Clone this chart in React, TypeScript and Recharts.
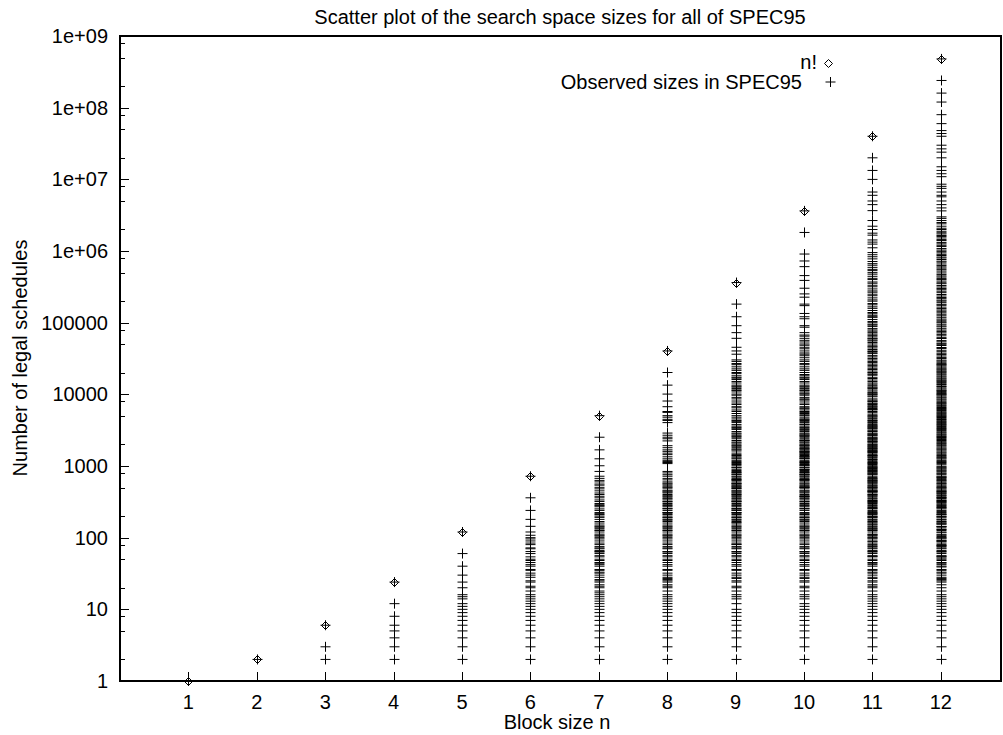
import { ScatterChart, Scatter, XAxis, YAxis } from "recharts";

const FONT = '"Liberation Sans", Arial, Helvetica, sans-serif';

// block sizes and the n! upper bound
const blockSizes = [1, 2, 3, 4, 5, 6, 7, 8, 9, 10, 11, 12];
const factorials = [1, 2, 6, 24, 120, 720, 5040, 40320, 362880, 3628800, 39916800, 479001600];

// observed search space sizes per block size
const observedN1 = [1];
const observedN2 = [2];
const observedN3 = [2, 3, 6];
const observedN4 = [2, 3, 4, 5, 6, 8, 12, 24];
const observedN5 = [2, 3, 4, 5, 6, 7, 8, 9, 10, 11, 12, 14, 15, 16, 20, 24, 30, 40, 60, 120];
const observedN6 = [
  2, 3, 4, 5, 6, 7, 8, 9, 10, 11, 12, 13, 14, 15, 16, 18, 20, 21, 24, 25, 28, 30, 32, 35, 36, 40, 42, 45,
  48, 50, 54, 60, 64, 70, 72, 80, 84, 90, 96, 100, 108, 120, 144, 180, 240, 360, 720,
];
const observedN7 = [
  2, 3, 4, 5, 6, 7, 8, 9, 10, 11, 12, 13, 14, 15, 16, 17, 18, 20, 21, 22, 24, 25, 26, 28, 30, 32, 33, 35, 36,
  40, 42, 44, 45, 48, 50, 54, 56, 60, 63, 64, 66, 70, 72, 75, 80, 84, 90, 96, 100, 105, 108, 112, 120, 126,
  128, 135, 140, 144, 150, 160, 168, 180, 192, 200, 210, 216, 224, 240, 252, 270, 280, 288, 300, 320, 336,
  360, 378, 400, 420, 450, 480, 504, 540, 560, 600, 630, 672, 720, 840, 1008, 1260, 1680, 2520, 5040,
];
const observedN8 = [
  2, 3, 4, 5, 6, 7, 8, 9, 10, 11, 12, 13, 14, 15, 16, 18, 20, 21, 22, 24, 25, 26, 27, 28, 30, 32, 35, 36, 40,
  42, 45, 48, 50, 54, 56, 60, 63, 64, 70, 72, 75, 80, 84, 90, 96, 100, 105, 108, 112, 120, 126, 128, 135, 140,
  144, 150, 160, 168, 175, 180, 189, 192, 200, 210, 216, 224, 225, 240, 252, 256, 270, 280, 288, 300, 315,
  320, 336, 350, 360, 378, 384, 400, 420, 432, 448, 450, 480, 504, 512, 540, 560, 576, 600, 640, 672, 720,
  756, 800, 840, 1080, 1120, 1152, 1200, 1260, 1344, 1440, 1512, 1600, 1680, 1800, 1920, 2240, 2400, 2520,
  2688, 2880, 4032, 4320, 4480, 4800, 5040, 5600, 5760, 6720, 8064, 10080, 13440, 20160, 40320,
];
const observedN9 = [
  2, 3, 4, 5, 6, 7, 8, 9, 10, 12, 14, 15, 16, 18, 20, 21, 24, 25, 27, 28, 30, 32, 35, 36, 40, 42, 45, 48, 50,
  54, 56, 60, 63, 64, 70, 72, 75, 80, 81, 84, 90, 96, 100, 105, 108, 112, 120, 126, 128, 135, 140, 144, 150,
  160, 162, 168, 175, 180, 189, 192, 200, 210, 216, 224, 225, 240, 243, 252, 256, 270, 280, 288, 300, 315,
  320, 324, 336, 350, 360, 378, 384, 400, 405, 420, 432, 448, 450, 480, 486, 504, 512, 525, 540, 560, 567,
  576, 600, 630, 640, 648, 672, 700, 720, 756, 768, 800, 810, 840, 864, 900, 945, 960, 1008, 1050, 1080,
  1120, 1152, 1200, 1260, 1296, 1344, 1400, 1440, 1512, 1620, 1680, 1728, 1800, 1890, 1920, 2016, 2100,
  2160, 2268, 2400, 2520, 2592, 2688, 2800, 2880, 3024, 3240, 3360, 3456, 3600, 3780, 4032, 4200, 4320,
  4536, 4800, 5040, 5400, 5760, 6048, 6480, 6720, 7200, 7560, 8064, 8640, 9072, 9720, 10080, 10800, 11340,
  11520, 12096, 12600, 12960, 13440, 14400, 15120, 16128, 16800, 17280, 18144, 19440, 20160, 21600, 22680,
  24192, 25920, 26880, 28800, 30240, 36288, 40320, 45360, 60480, 72576, 90720, 120960, 181440, 362880,
];
const observedN10 = [
  2, 3, 4, 5, 6, 7, 8, 9, 10, 11, 12, 14, 15, 16, 18, 20, 21, 24, 25, 27, 28, 30, 32, 35, 36, 40, 42, 45, 48,
  50, 54, 56, 60, 63, 64, 70, 72, 75, 80, 84, 90, 96, 100, 105, 108, 112, 120, 126, 128, 135, 140, 144, 150,
  160, 168, 175, 180, 189, 192, 200, 210, 216, 224, 240, 252, 256, 270, 280, 288, 300, 315, 320, 336, 350,
  360, 375, 378, 384, 400, 420, 432, 448, 450, 480, 500, 504, 512, 525, 540, 560, 576, 600, 630, 640, 648,
  672, 700, 720, 750, 756, 768, 800, 810, 840, 864, 896, 900, 945, 960, 1008, 1024, 1050, 1080, 1120, 1134,
  1152, 1200, 1260, 1280, 1296, 1344, 1350, 1400, 1440, 1470, 1512, 1536, 1575, 1600, 1620, 1680, 1728,
  1764, 1800, 1890, 1920, 1960, 2016, 2100, 2160, 2240, 2268, 2304, 2400, 2520, 2592, 2688, 2700, 2800,
  2880, 3024, 3150, 3240, 3360, 3456, 3600, 3780, 3840, 4032, 4200, 4320, 4480, 4536, 4800, 5040, 5184,
  5400, 5600, 5760, 6048, 6300, 6480, 6720, 7200, 7560, 8064, 8400, 8640, 9072, 9720, 10080, 10368, 10800,
  11340, 11520, 12096, 12600, 12960, 13440, 14400, 15120, 16128, 16800, 17280, 18144, 18900, 20160, 21600,
  22680, 24192, 25920, 26880, 28800, 30240, 32400, 34560, 36288, 37800, 40320, 43200, 45360, 48384, 50400,
  53760, 56700, 60480, 64800, 67200, 72576, 86400, 90720, 113400, 120960, 134400, 172800, 181440, 226800,
  252000, 302400, 388800, 453600, 604800, 725760, 907200, 1814400, 3628800,
];
const observedN11 = [
  2, 3, 4, 5, 6, 7, 8, 9, 10, 11, 12, 13, 14, 15, 16, 18, 20, 21, 22, 24, 25, 27, 28, 30, 32, 33, 35, 36, 40,
  42, 44, 45, 48, 50, 54, 55, 56, 60, 63, 64, 66, 70, 72, 75, 77, 80, 84, 88, 90, 96, 99, 100, 105, 108, 110,
  112, 120, 126, 128, 132, 135, 140, 144, 150, 154, 160, 165, 168, 175, 180, 189, 192, 198, 200, 210, 216,
  220, 224, 231, 240, 252, 256, 264, 270, 280, 288, 300, 308, 315, 320, 330, 336, 350, 360, 378, 384, 396,
  400, 420, 432, 440, 448, 450, 462, 480, 495, 504, 512, 528, 540, 560, 576, 594, 600, 616, 630, 640, 660,
  672, 693, 720, 756, 770, 792, 800, 825, 840, 864, 880, 900, 924, 945, 960, 990, 1008, 1050, 1080, 1100,
  1120, 1152, 1200, 1232, 1260, 1320, 1344, 1386, 1400, 1440, 1512, 1540, 1584, 1600, 1650, 1680, 1728,
  1760, 1800, 1848, 1890, 1920, 1980, 2016, 2100, 2160, 2200, 2240, 2310, 2376, 2400, 2464, 2520, 2640,
  2688, 2772, 2800, 2880, 3024, 3080, 3168, 3300, 3360, 3465, 3520, 3600, 3696, 3780, 3960, 4032, 4200,
  4320, 4400, 4620, 4800, 4950, 5040, 5280, 5544, 5760, 6048, 6160, 6336, 6600, 6720, 6930, 7200, 7392,
  7560, 7920, 8064, 8316, 8640, 9240, 9504, 9900, 10080, 10395, 10560, 11088, 11520, 12096, 12320, 12672,
  13200, 13860, 14400, 15120, 15840, 16632, 17280, 18480, 19008, 19800, 20160, 21120, 22176, 23100, 24192,
  25344, 26400, 27720, 28800, 30240, 31680, 33264, 34650, 36960, 38016, 39600, 40320, 42240, 44352, 46200,
  47520, 50400, 52800, 55440, 57024, 59400, 60480, 63360, 66528, 69300, 72576, 76032, 79200, 83160, 88704,
  92400, 95040, 99792, 103950, 110880, 118800, 120960, 126720, 133056, 138600, 147840, 158400, 166320,
  177408, 184800, 199584, 207900, 221760, 237600, 249480, 266112, 277200, 295680, 316800, 332640, 354816,
  369600, 399168, 415800, 443520, 475200, 498960, 532224, 554400, 591360, 633600, 665280, 712800, 776160,
  831600, 887040, 950400, 1108800, 1247400, 1330560, 1425600, 1663200, 1774080, 1995840, 2217600, 2661120,
  3659040, 4435200, 4989600, 5987520, 6652800, 9979200, 13305600, 19958400, 39916800,
];
const observedN12 = [
  2, 3, 4, 5, 6, 7, 8, 9, 10, 11, 12, 13, 14, 15, 16, 18, 20, 22, 24, 25, 26, 27, 28, 30, 32, 33, 35, 36, 39,
  40, 42, 44, 45, 48, 50, 52, 54, 55, 56, 60, 63, 64, 66, 70, 72, 75, 77, 78, 80, 84, 88, 90, 91, 96, 99, 100,
  104, 108, 110, 117, 120, 126, 130, 132, 140, 143, 144, 154, 156, 160, 165, 168, 176, 180, 189, 195, 198,
  208, 210, 216, 224, 231, 240, 252, 260, 264, 273, 280, 288, 297, 308, 315, 320, 330, 336, 351, 360, 364,
  378, 390, 396, 416, 420, 432, 440, 450, 462, 480, 495, 504, 520, 540, 560, 572, 594, 616, 630, 650, 672,
  693, 702, 720, 756, 780, 800, 832, 858, 880, 910, 936, 960, 990, 1040, 1080, 1120, 1152, 1188, 1248,
  1287, 1320, 1365, 1404, 1456, 1512, 1560, 1620, 1680, 1728, 1782, 1848, 1920, 1980, 2052, 2112, 2184,
  2268, 2340, 2430, 2496, 2574, 2640, 2730, 2808, 2912, 3003, 3120, 3240, 3328, 3432, 3564, 3696, 3780,
  3900, 4032, 4160, 4290, 4455, 4576, 4752, 4914, 5040, 5200, 5376, 5544, 5720, 5940, 6156, 6336, 6552,
  6804, 7020, 7280, 7488, 7722, 8008, 8320, 8580, 8910, 9152, 9504, 9828, 10010, 10296, 10560, 10920, 11232,
  11440, 11880, 12320, 12870, 13104, 13728, 14040, 14560, 15015, 15444, 15840, 16380, 16848, 17472, 18018,
  18720, 19305, 20020, 20592, 21120, 21840, 22464, 23166, 24024, 24960, 25740, 26208, 27027, 28080, 29120,
  30030, 31680, 32760, 34320, 36036, 37440, 39312, 41184, 43680, 45045, 48048, 49920, 51480, 54054, 56160,
  60060, 61776, 65520, 68640, 72072, 75075, 78624, 82368, 87360, 90090, 95040, 99792, 102960, 108108,
  112320, 118800, 124740, 131040, 137280, 144144, 150150, 157248, 164736, 174720, 180180, 190080, 199584,
  205920, 216216, 224640, 235620, 247104, 262080, 274560, 288288, 300300, 314496, 329472, 349440, 360360,
  380160, 399168, 411840, 432432, 449280, 471240, 494208, 524160, 549120, 576576, 600600, 628992, 658944,
  698880, 720720, 760320, 798336, 823680, 864864, 898560, 942480, 988416, 1029600, 1081080, 1153152,
  1201200, 1257984, 1317888, 1397760, 1441440, 1520640, 1596672, 1647360, 1729728, 1797120, 1884960,
  1995840, 2079000, 2217600, 2395008, 2494800, 2661120, 2851200, 2993760, 3628800, 3991680, 4435200,
  4989600, 5702400, 5987520, 6652800, 7484400, 7983360, 8553600, 10886400, 11975040, 13305600, 14968800,
  19958400, 23950080, 26611200, 29937600, 39916800, 43545600, 47900160, 59875200, 79833600, 119750400,
  159667200, 239500800, 479001600,
];

const observedBySize = [
  observedN1, observedN2, observedN3, observedN4, observedN5, observedN6,
  observedN7, observedN8, observedN9, observedN10, observedN11, observedN12,
];

// axis ticks
const xTicks = [1, 2, 3, 4, 5, 6, 7, 8, 9, 10, 11, 12];
const yMajorTicks = [1, 10, 100, 1000, 10000, 100000, 1e6, 1e7, 1e8, 1e9];
const yTickLabels = ["1", "10", "100", "1000", "10000", "100000", "1e+06", "1e+07", "1e+08", "1e+09"];
const yMinorSteps = [2, 5, 8];

const yMinorTicks = yMajorTicks.slice(0, -1).flatMap((d) => yMinorSteps.map((s) => s * d));
const yTicks = [...yMajorTicks, ...yMinorTicks];

const factorialPoints = blockSizes.map((n, i) => ({ n, count: factorials[i] }));
const observedPoints = observedBySize.flatMap((vals, i) =>
  vals.map((v) => ({ n: blockSizes[i], count: v }))
);

const snap = (v: number) => Math.round(v) + 0.5;

function PlusMark(props: any) {
  const { cx, cy } = props;
  if (cx == null || cy == null) return <g />;
  const x = snap(cx);
  return (
    <g>
      <line x1={x - 5} x2={x + 5} y1={cy} y2={cy} stroke="#000" strokeWidth={1} />
      <line x1={x} x2={x} y1={cy - 5} y2={cy + 5} stroke="#000" strokeWidth={1} />
    </g>
  );
}

function DiamondMark(props: any) {
  const { cx, cy } = props;
  if (cx == null || cy == null) return <g />;
  const x = snap(cx);
  const y = snap(cy);
  return (
    <path
      d={`M${x},${y - 4}L${x + 4},${y}L${x},${y + 4}L${x - 4},${y}Z`}
      fill="none"
      stroke="#000"
      strokeWidth={1}
    />
  );
}

// plot box edges (page pixels)
const PLOT_LEFT = 120;
const PLOT_TOP = 36;
const PLOT_RIGHT = 1001;
const PLOT_BOTTOM = 681;

function BottomTick({ x, payload }: any) {
  const px = snap(x);
  return (
    <g>
      <line x1={px} x2={px} y1={PLOT_BOTTOM} y2={PLOT_BOTTOM - 9} stroke="#000" />
      <text x={x} y={PLOT_BOTTOM + 27.5} textAnchor="middle" fontSize={20} fontFamily={FONT} fill="#000">
        {payload.value}
      </text>
    </g>
  );
}

function TopTick({ x }: any) {
  const px = snap(x);
  return <line x1={px} x2={px} y1={PLOT_TOP} y2={PLOT_TOP + 9} stroke="#000" />;
}

function LeftTick({ y, payload }: any) {
  const idx = yMajorTicks.indexOf(payload.value);
  const py = snap(y);
  return (
    <g>
      <line x1={PLOT_LEFT} x2={PLOT_LEFT + (idx >= 0 ? 9 : 5)} y1={py} y2={py} stroke="#000" />
      {idx >= 0 && (
        <text x={108} y={y + 7} textAnchor="end" fontSize={20} fontFamily={FONT} fill="#000">
          {yTickLabels[idx]}
        </text>
      )}
    </g>
  );
}

function RightTick({ y, payload }: any) {
  const major = yMajorTicks.indexOf(payload.value) >= 0;
  const py = snap(y);
  return <line x1={PLOT_RIGHT} x2={PLOT_RIGHT - (major ? 9 : 5)} y1={py} y2={py} stroke="#000" />;
}

const axisLine = { stroke: "#000", strokeWidth: 2 };

export default function App() {
  return (
    <div style={{ position: "absolute", left: 0, top: 0, width: 1003, height: 735, background: "#fff", fontFamily: FONT }}>
      <svg
        width={1003}
        height={735}
        style={{ position: "absolute", left: 0, top: 0, zIndex: 0 }}
        fontFamily={FONT}
        fontSize={20}
      >
        <rect
          x={PLOT_LEFT}
          y={PLOT_TOP}
          width={PLOT_RIGHT - PLOT_LEFT}
          height={PLOT_BOTTOM - PLOT_TOP}
          fill="none"
          stroke="#000"
          strokeWidth={2}
        />
        <text x={560} y={24} textAnchor="middle" fill="#000">
          Scatter plot of the search space sizes for all of SPEC95
        </text>
        <text x={557} y={729} textAnchor="middle" fill="#000">
          Block size n
        </text>
        <text x={27} y={358} textAnchor="middle" fill="#000" transform="rotate(-90, 27, 358)">
          Number of legal schedules
        </text>
        <text x={817} y={68.5} textAnchor="end" fill="#000">
          n!
        </text>
        <DiamondMark cx={828} cy={63} />
        <text x={802} y={88.5} textAnchor="end" fill="#000">
          Observed sizes in SPEC95
        </text>
        <PlusMark cx={830} cy={82} />
      </svg>
      <div style={{ position: "absolute", left: 0, top: 0, zIndex: 1 }}>
        <ScatterChart
          width={1003}
          height={735}
          margin={{ top: PLOT_TOP - 1, right: 1003 - PLOT_RIGHT - 1, bottom: 735 - PLOT_BOTTOM - 1, left: 0 }}
        >
          <XAxis
            xAxisId="b"
            dataKey="n"
            type="number"
            domain={[0, 12.88]}
            ticks={xTicks}
            interval={0}
            height={1}
            tickSize={0}
            tickMargin={0}
            tickLine={false}
            axisLine={axisLine}
            tick={<BottomTick />}
          />
          <XAxis
            xAxisId="t"
            orientation="top"
            dataKey="n"
            type="number"
            domain={[0, 12.88]}
            ticks={xTicks}
            interval={0}
            height={1}
            tickSize={0}
            tickMargin={0}
            tickLine={false}
            axisLine={axisLine}
            tick={<TopTick />}
          />
          <YAxis
            yAxisId="l"
            dataKey="count"
            type="number"
            scale="log"
            domain={[1, 1e9]}
            ticks={yTicks}
            interval={0}
            width={PLOT_LEFT}
            tickSize={0}
            tickMargin={0}
            tickLine={false}
            axisLine={axisLine}
            tick={<LeftTick />}
          />
          <YAxis
            yAxisId="r"
            orientation="right"
            dataKey="count"
            type="number"
            scale="log"
            domain={[1, 1e9]}
            ticks={yTicks}
            interval={0}
            width={1}
            tickSize={0}
            tickMargin={0}
            tickLine={false}
            axisLine={axisLine}
            tick={<RightTick />}
          />
          <Scatter
            name="Observed sizes in SPEC95"
            data={observedPoints}
            xAxisId="b"
            yAxisId="l"
            dataKey="count"
            shape={<PlusMark />}
            isAnimationActive={false}
          />
          <Scatter
            name="n!"
            data={factorialPoints}
            xAxisId="b"
            yAxisId="l"
            dataKey="count"
            shape={<DiamondMark />}
            isAnimationActive={false}
          />
        </ScatterChart>
      </div>
    </div>
  );
}
